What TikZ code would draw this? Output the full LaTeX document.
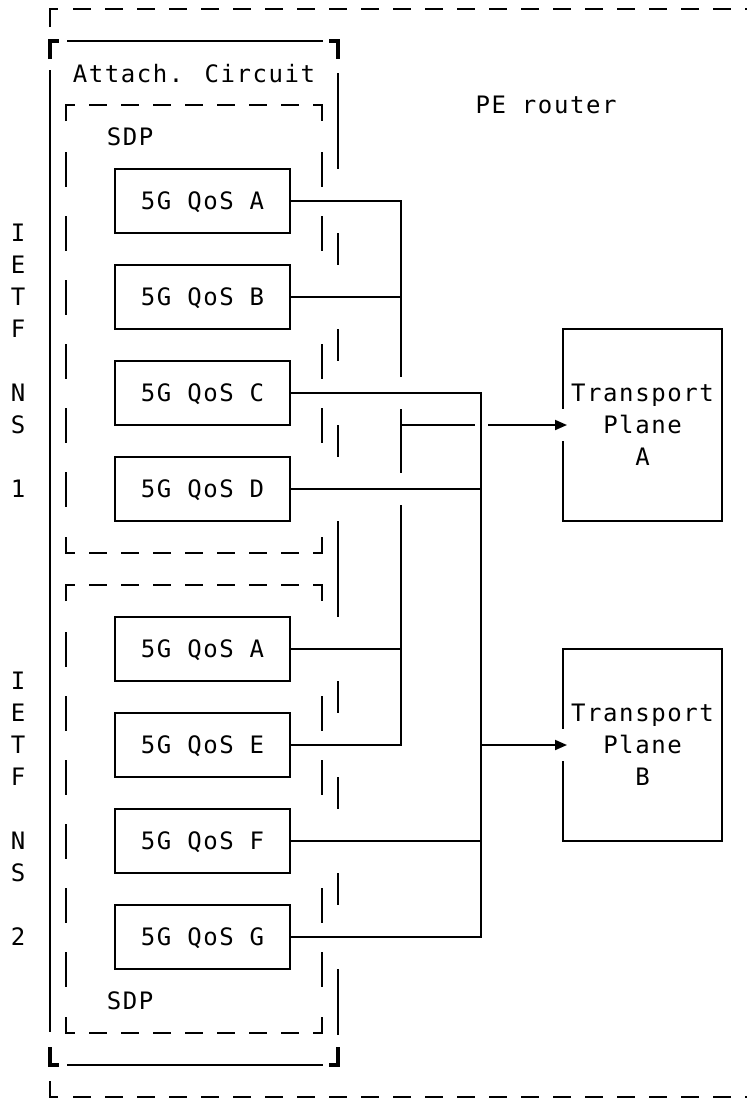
\documentclass[tikz,border=0pt]{standalone}
\usepackage{fontspec}
\newfontfamily\asciifont{DejaVu Sans Mono}[LetterSpace=6.5]
\usetikzlibrary{arrows.meta}

\begin{document}
\begin{tikzpicture}[x=1pt, y=-1pt, line width=1.9pt, line cap=butt, line join=miter,
  txt/.style={inner sep=0pt, font=\asciifont\fontsize{24}{32}\selectfont},
  qosbox/.style={txt, draw, minimum width=175pt, minimum height=64pt, text depth=0pt},
  planebox/.style={txt, align=center, minimum width=159pt, minimum height=192pt, outer sep=0pt},
  heavy/.style={line width=4.2pt},
  dashh/.style={dash pattern=on 18pt off 14pt},
  dashv/.style={dash pattern=on 35pt off 29pt},
  tip/.style={-{Triangle[length=12pt,width=10pt]}}]

  %% ════ 外框 PE router（虚线，右侧出画）════
  \draw (50,27) -- (50,9) -- (58,9);
  \draw[dashh] (73,9) -- (760,9);
  \draw (50,1081) -- (50,1097) -- (58,1097);
  \draw[dashh] (73,1097) -- (760,1097);
  \node[txt, text depth=0pt] (pe) at (546,105) {PE router};

  %% ════ Attach. Circuit 框（粗角 + 细边，右边被连线打断）════
  \draw[heavy] (50,59) -- (50,41) -- (59,41);
  \draw[heavy] (329,41) -- (338,41) -- (338,59);
  \draw[heavy] (50,1047) -- (50,1065) -- (59,1065);
  \draw[heavy] (329,1065) -- (338,1065) -- (338,1047);
  \draw (67,41) -- (323,41);
  \draw (67,1065) -- (323,1065);
  \draw (50,70) -- (50,1032);
  \draw (338,73) -- (338,169)  (338,233) -- (338,265)  (338,329) -- (338,361)
        (338,425) -- (338,457)  (338,521) -- (338,617)  (338,681) -- (338,713)
        (338,777) -- (338,809)  (338,873) -- (338,905)  (338,969) -- (338,1035);
  \node[txt, text depth=0pt] (ac) at (194,73) {Attach. Circuit};

  %% ════ SDP 1（虚线框）════
  \draw (66,121) -- (66,105) -- (75,105);
  \draw (313,105) -- (322,105) -- (322,121);
  \draw (66,537) -- (66,553) -- (75,553);
  \draw (313,553) -- (322,553) -- (322,537);
  \draw[dashh] (89,105) -- (299,105);
  \draw[dashh] (89,553) -- (299,553);
  \draw[dashv] (66,152) -- (66,507);
  \draw[dashv] (322,152) -- (322,251)  (322,344) -- (322,443);
  \node[txt, text depth=0pt] (sdp1) at (130,137) {SDP};

  %% ════ SDP 2 ════
  \draw (66,601) -- (66,585) -- (75,585);
  \draw (313,585) -- (322,585) -- (322,601);
  \draw (66,1017) -- (66,1033) -- (75,1033);
  \draw (313,1033) -- (322,1033) -- (322,1017);
  \draw[dashh] (89,585) -- (299,585);
  \draw[dashh] (89,1033) -- (299,1033);
  \draw[dashv] (66,632) -- (66,987);
  \draw[dashv] (322,696) -- (322,795)  (322,888) -- (322,987);
  \node[txt, text depth=0pt] (sdp2) at (130,1001) {SDP};

  %% ════ 5G QoS 框 ════
  \node[qosbox] (qosA1) at (202.5,201) {5G QoS A};
  \node[qosbox] (qosB)  at (202.5,297) {5G QoS B};
  \node[qosbox] (qosC)  at (202.5,393) {5G QoS C};
  \node[qosbox] (qosD)  at (202.5,489) {5G QoS D};
  \node[qosbox] (qosA2) at (202.5,649) {5G QoS A};
  \node[qosbox] (qosE)  at (202.5,745) {5G QoS E};
  \node[qosbox] (qosF)  at (202.5,841) {5G QoS F};
  \node[qosbox] (qosG)  at (202.5,937) {5G QoS G};

  %% ════ 竖排标签 ════
  \node[txt, align=center] (ns1) at (18,361) {I\\E\\T\\F\\[32pt]N\\S\\[32pt]1};
  \node[txt, align=center] (ns2) at (18,809) {I\\E\\T\\F\\[32pt]N\\S\\[32pt]2};

  %% ════ Transport Plane 框（左边留口给箭头）════
  \node[planebox] (tpA) at (642.5,425) {Transport\\Plane\\A};
  \node[planebox] (tpB) at (642.5,745) {Transport\\Plane\\B};
  \draw ([yshift=-16pt]tpA.west) -- (tpA.south west) -- (tpA.south east)
        -- (tpA.north east) -- (tpA.north west) -- ([yshift=16pt]tpA.west);
  \draw ([yshift=-16pt]tpB.west) -- (tpB.south west) -- (tpB.south east)
        -- (tpB.north east) -- (tpB.north west) -- ([yshift=16pt]tpB.west);

  %% ════ 汇聚线（交叉处断开）════
  \coordinate (b1cut1) at (401,377);
  \coordinate (b1cut2) at (401,409);
  \coordinate (b1cut3) at (401,473);
  \coordinate (b1cut4) at (401,505);
  \coordinate (b2end)  at (481,937);
  \coordinate (brA)    at (401,425);
  \coordinate (brAcut1) at (475,425);
  \coordinate (brAcut2) at (488,425);
  \coordinate (brB)    at (481,745);

  \draw (qosA1.east) -| (b1cut1);
  \draw (qosB.east) -- (qosB.east -| b1cut1);
  \draw (b1cut2) -- (b1cut3);
  \draw (b1cut4) |- (qosE.east);
  \draw (qosA2.east) -- (qosA2.east -| b1cut4);
  \draw (qosC.east) -| (b2end) -- (qosG.east);
  \draw (qosD.east) -- (qosD.east -| b2end);
  \draw (qosF.east) -- (qosF.east -| b2end);
  \draw (brA) -- (brAcut1);
  \draw[tip] (brAcut2) -- ([xshift=4pt]tpA.west);
  \draw[tip] (brB) -- ([xshift=4pt]tpB.west);

  % 钉死画布
  \pgfresetboundingbox
  \path[use as bounding box] (0,0) rectangle (747,1098);
\end{tikzpicture}
\end{document}
